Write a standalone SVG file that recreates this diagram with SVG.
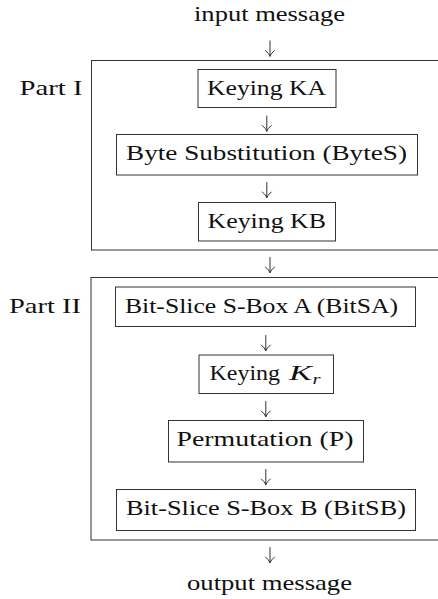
<svg xmlns="http://www.w3.org/2000/svg" width="438" height="599" viewBox="0 0 438 599">
<defs>
<path id="arr" fill="none" stroke="#333" stroke-width="1" stroke-linecap="round" d="M0,-15 V0 M-4.5,-5.5 Q-1,-2.5 0,0 M4.5,-5.5 Q1,-2.5 0,0"/>
</defs>
<rect width="438" height="599" fill="#fff"/>
<g id="input"><text x="194" y="21" style="font-family:'Liberation Serif',serif;font-size:21.5px" fill="#111" textLength="151" lengthAdjust="spacingAndGlyphs">input message</text></g>
<g id="part1">
<rect x="91.5" y="60.5" width="360" height="189.5" fill="none" stroke="#333" stroke-width="1"/>
<text x="19.5" y="94.5" style="font-family:'Liberation Serif',serif;font-size:21.5px" fill="#111" textLength="63" lengthAdjust="spacingAndGlyphs">Part I</text>
</g>
<g id="ka"><rect x="198" y="69.5" width="138" height="38" fill="none" stroke="#333" stroke-width="1"/><text x="207" y="94.5" style="font-family:'Liberation Serif',serif;font-size:21.5px" fill="#111" textLength="119" lengthAdjust="spacingAndGlyphs">Keying KA</text></g>
<g id="bytes"><rect x="116.5" y="134.5" width="301" height="40.5" fill="none" stroke="#333" stroke-width="1"/><text x="126" y="160" style="font-family:'Liberation Serif',serif;font-size:21.5px" fill="#111" textLength="281" lengthAdjust="spacingAndGlyphs">Byte Substitution (ByteS)</text></g>
<g id="kb"><rect x="198.5" y="202.5" width="137" height="38.5" fill="none" stroke="#333" stroke-width="1"/><text x="207.5" y="228" style="font-family:'Liberation Serif',serif;font-size:21.5px" fill="#111" textLength="118.5" lengthAdjust="spacingAndGlyphs">Keying KB</text></g>
<g id="part2">
<rect x="91" y="277.5" width="360" height="262.5" fill="none" stroke="#333" stroke-width="1"/>
<text x="9" y="312.5" style="font-family:'Liberation Serif',serif;font-size:21.5px" fill="#111" textLength="72" lengthAdjust="spacingAndGlyphs">Part II</text>
</g>
<g id="bitsa"><rect x="115.5" y="287" width="300" height="39.5" fill="none" stroke="#333" stroke-width="1"/><text x="125" y="312.5" style="font-family:'Liberation Serif',serif;font-size:21.5px" fill="#111" textLength="273" lengthAdjust="spacingAndGlyphs">Bit-Slice S-Box A (BitSA)</text></g>
<g id="kr"><rect x="199" y="355" width="134.5" height="38.5" fill="none" stroke="#333" stroke-width="1"/>
<text x="209.5" y="380" style="font-family:'Liberation Serif',serif;font-size:21.5px" fill="#111" textLength="70.5" lengthAdjust="spacingAndGlyphs">Keying</text>
<text x="289" y="380" style="font-family:'Liberation Serif',serif;font-size:21.5px;font-style:italic" fill="#111" textLength="23" lengthAdjust="spacingAndGlyphs">K</text>
<text x="312.5" y="383.5" style="font-family:'Liberation Serif',serif;font-size:15px;font-style:italic" fill="#111" textLength="8" lengthAdjust="spacingAndGlyphs">r</text></g>
<g id="perm"><rect x="168.5" y="420.5" width="195" height="41.5" fill="none" stroke="#333" stroke-width="1"/><text x="176.5" y="446" style="font-family:'Liberation Serif',serif;font-size:21.5px" fill="#111" textLength="177" lengthAdjust="spacingAndGlyphs">Permutation (P)</text></g>
<g id="bitsb"><rect x="116.5" y="489.5" width="299" height="41" fill="none" stroke="#333" stroke-width="1"/><text x="126" y="515" style="font-family:'Liberation Serif',serif;font-size:21.5px" fill="#111" textLength="280" lengthAdjust="spacingAndGlyphs">Bit-Slice S-Box B (BitSB)</text></g>
<g id="output"><text x="187" y="589.5" style="font-family:'Liberation Serif',serif;font-size:21.5px" fill="#111" textLength="165" lengthAdjust="spacingAndGlyphs">output message</text></g>
<g id="connectors">
<use href="#arr" x="270" y="56"/>
<use href="#arr" x="266.8" y="131"/>
<use href="#arr" x="266.8" y="197.5"/>
<use href="#arr" x="270" y="272.5"/>
<use href="#arr" x="265.8" y="350.5"/>
<use href="#arr" x="265.8" y="416.5"/>
<use href="#arr" x="265.8" y="484.5"/>
<use href="#arr" x="270" y="562.5"/>
</g>
</svg>
